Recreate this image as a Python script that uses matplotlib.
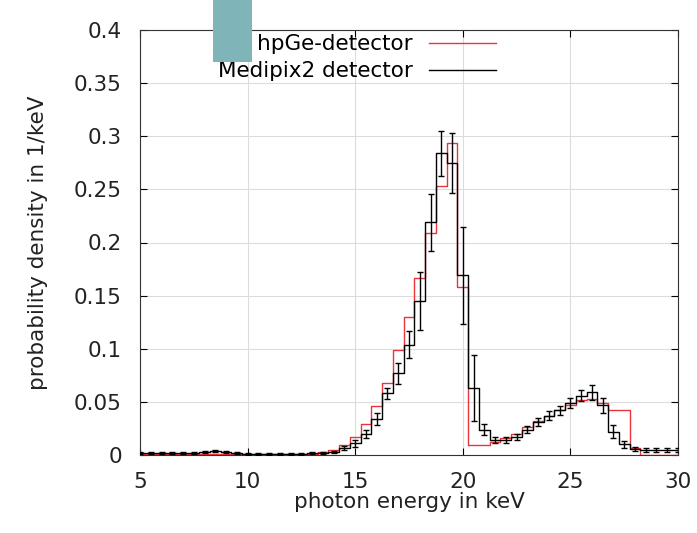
import numpy as np
import matplotlib.pyplot as plt
from matplotlib.patches import Rectangle

# photon energy bin centres (keV), 0.5 keV bins
energy = [5.0, 5.5, 6.0, 6.5, 7.0, 7.5, 8.0, 8.5, 9.0, 9.5,
          10.0, 10.5, 11.0, 11.5, 12.0, 12.5, 13.0, 13.5, 14.0, 14.5,
          15.0, 15.5, 16.0, 16.5, 17.0, 17.5, 18.0, 18.5, 19.0, 19.5,
          20.0, 20.5, 21.0, 21.5, 22.0, 22.5, 23.0, 23.5, 24.0, 24.5,
          25.0, 25.5, 26.0, 26.5, 27.0, 27.5, 28.0, 28.5, 29.0, 29.5, 30.0]

# hpGe-detector spectrum
hpge = [0.0005, 0.0005, 0.0005, 0.0005, 0.0005, 0.0005, 0.001, 0.001, 0.001, 0.0005,
        0.0005, 0.0005, 0.0005, 0.0005, 0.0005, 0.0005, 0.001, 0.0025, 0.005, 0.009,
        0.017, 0.029, 0.046, 0.068, 0.099, 0.130, 0.167, 0.209, 0.253, 0.294,
        0.158, 0.009, 0.009, 0.012, 0.016, 0.020, 0.026, 0.032, 0.037, 0.042,
        0.047, 0.052, 0.053, 0.049, 0.042, 0.042, 0.007, 0.0, 0.0, 0.0, 0.0]

# Medipix2 detector spectrum and its errors
medipix = [0.002, 0.002, 0.002, 0.002, 0.0015, 0.002, 0.003, 0.004, 0.003, 0.0015,
           0.001, 0.001, 0.001, 0.001, 0.001, 0.001, 0.0015, 0.002, 0.003, 0.0065,
           0.011, 0.020, 0.034, 0.058, 0.077, 0.104, 0.145, 0.219, 0.284, 0.275,
           0.169, 0.063, 0.024, 0.014, 0.014, 0.017, 0.024, 0.031, 0.037, 0.042,
           0.049, 0.056, 0.059, 0.047, 0.022, 0.010, 0.006, 0.005, 0.005, 0.005, 0.005]
medipix_err = [0.001, 0.001, 0.001, 0.001, 0.001, 0.001, 0.001, 0.001, 0.001, 0.001,
               0.001, 0.001, 0.001, 0.001, 0.001, 0.001, 0.001, 0.001, 0.001, 0.002,
               0.003, 0.004, 0.006, 0.005, 0.010, 0.013, 0.027, 0.027, 0.021, 0.028,
               0.046, 0.031, 0.005, 0.003, 0.003, 0.003, 0.003, 0.004, 0.004, 0.004,
               0.005, 0.005, 0.007, 0.007, 0.006, 0.003, 0.002, 0.002, 0.002, 0.002, 0.002]

xticks = [5, 10, 15, 20, 25, 30]
yticks = [0, 0.05, 0.1, 0.15, 0.2, 0.25, 0.3, 0.35, 0.4]
ytick_labels = ['0', '0.05', '0.1', '0.15', '0.2', '0.25', '0.3', '0.35', '0.4']

plt.rcParams['font.family'] = 'DejaVu Sans'
fs = 15.5

fig = plt.figure(figsize=(6.97, 5.33), dpi=100)
ax = fig.add_axes([140 / 697, 1 - 455 / 533, 538 / 697, 425 / 533])

ax.step(energy, hpge, where='mid', color='#e8343a', lw=1.0, label='hpGe-detector', zorder=3)
ax.step(energy, medipix, where='mid', color='black', lw=1.0, label='Medipix2 detector', zorder=4)
ax.errorbar(energy, medipix, yerr=medipix_err, fmt='none', ecolor='black',
            elinewidth=1.0, capsize=2.5, capthick=1.0, zorder=4)

ax.set_xlim(5, 30)
ax.set_ylim(0, 0.4)
ax.set_xticks(xticks)
ax.set_yticks(yticks)
ax.set_yticklabels(ytick_labels)
ax.tick_params(direction='in', top=True, right=True, length=5, width=0.8,
               labelsize=fs, colors='black')
ax.tick_params(axis='x', pad=12)
ax.tick_params(axis='y', pad=13)
for lab in ax.get_xticklabels() + ax.get_yticklabels():
    lab.set_color('#222222')
ax.grid(True, color='#dcdcdc', lw=0.8)
ax.set_axisbelow(True)
for sp in ax.spines.values():
    sp.set_linewidth(0.8)
    sp.set_color('#333333')

ax.set_xlabel('photon energy in keV', fontsize=fs, color='#222222', labelpad=0)
ax.set_ylabel('probability density in 1/keV', fontsize=fs, color='#222222', labelpad=18.5)

ax.legend(loc='upper right', bbox_to_anchor=(0.669, 1.0), frameon=False,
          markerfirst=False, fontsize=fs, handlelength=3.1, handletextpad=0.75,
          labelspacing=0.33, borderpad=0.2, borderaxespad=0.0)

# teal block over the top of the figure
fig.patches.append(Rectangle((213 / 697, 1 - 62 / 533), 39 / 697, 62 / 533,
                             transform=fig.transFigure, facecolor='#7fb5b9',
                             edgecolor='none', zorder=10))

fig.savefig('out.png', dpi=100)
